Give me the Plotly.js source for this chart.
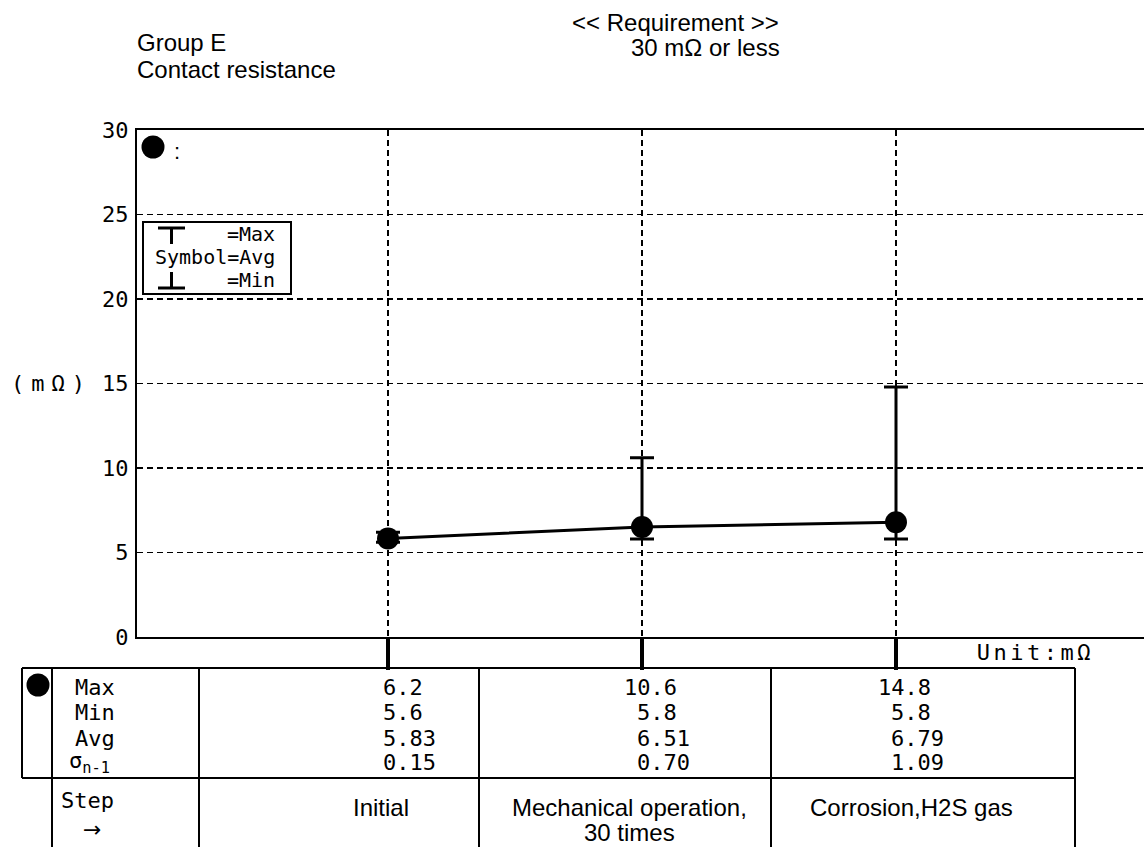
<!DOCTYPE html>
<html><head><meta charset="utf-8">
<script src="https://cdn.plot.ly/plotly-3.0.1.min.js"></script>
<style>html,body{margin:0;padding:0;background:#fff;} #chart{width:1144px;height:847px;}</style>
</head><body><div id="chart"></div>
<script>
// ---- data ----
const steps = ["Initial", "Mechanical operation,<br>30 times", "Corrosion,H2S gas"];
const maxVals = [6.2, 10.6, 14.8];
const minVals = [5.6, 5.8, 5.8];
const avgVals = [5.83, 6.51, 6.79];
const sigmaVals = [0.15, 0.70, 1.09];
const yTicks = [0, 5, 10, 15, 20, 25, 30];
const statLabels = ["Max", "Min", "Avg", "σ<sub>n-1</sub>"];

// ---- layout helpers (pixel geometry of the page) ----
const W = 1144, H = 847, L = 137, T = 130, B = 637, R = 1144;
const PW = R - L, PH = B - T;
const px = x => (x - L) / PW;
const py = y => (B - y) / PH;
const MONO = "DejaVu Sans Mono, Noto Sans CJK JP, monospace";
const SANS = "Liberation Sans, Arial, sans-serif";
const BLK = "#000";
const idx = steps.map((_, i) => i);
const catPx0 = 388, catStep = 254;
const xr0 = (L - catPx0) / catStep;
const xr1 = xr0 + PW / catStep;

const trace = {
  x: idx, y: avgVals, type: "scatter", mode: "lines+markers",
  line: {color: BLK, width: 3},
  marker: {size: 22, color: BLK},
  error_y: {
    type: "data", symmetric: false,
    array: maxVals.map((m, i) => m - avgVals[i]),
    arrayminus: avgVals.map((a, i) => a - minVals[i]),
    color: BLK, thickness: 3, width: 12
  },
  cliponaxis: false, hoverinfo: "skip"
};

const shapes = [];
const ann = [];
function line(x0, y0, x1, y1, w) {
  shapes.push({type: "line", xref: "paper", yref: "paper",
    x0: px(x0), y0: py(y0), x1: px(x1), y1: py(y1), line: {color: BLK, width: w || 2}});
}
function dot(cx, cy, r) {
  shapes.push({type: "circle", xref: "paper", yref: "paper",
    x0: px(cx - r), x1: px(cx + r), y0: py(cy + r), y1: py(cy - r),
    fillcolor: BLK, line: {color: BLK, width: 0}});
}
function text(t, x, y, opts) {
  ann.push(Object.assign({text: t, xref: "paper", yref: "paper", x: px(x), y: py(y),
    xanchor: "left", yanchor: "middle", showarrow: false,
    font: {family: MONO, size: 22, color: BLK}}, opts || {}));
}

// titles
text("Group E", 135, 42, {font: {family: SANS, size: 24, color: BLK}});
text("Contact resistance", 135, 69, {font: {family: SANS, size: 24, color: BLK}});
text("&lt;&lt; Requirement &gt;&gt;", 781, 22, {xanchor: "right", font: {family: SANS, size: 24, color: BLK}});
text("30 mΩ or less", 782, 47, {xanchor: "right", font: {family: SANS, size: 24, color: BLK}});
text("(mΩ)", 51, 383, {xanchor: "center"});
text("Unit:mΩ", 1035, 652, {xanchor: "center"});

// in-plot legend
dot(153, 147, 11.5);
text(":", 172, 151, {font: {family: SANS, size: 22, color: BLK}});
shapes.push({type: "rect", xref: "paper", yref: "paper", x0: px(143), x1: px(291), y0: py(294), y1: py(222),
  line: {color: BLK, width: 2}, fillcolor: "#fff"});
line(158, 228, 185, 228, 3); line(171.5, 228, 171.5, 244, 3);
line(171.5, 272, 171.5, 288, 3); line(158, 288, 185, 288, 3);
const LF = {family: MONO, size: 20, color: BLK};
text("=Max", 225, 234, {font: LF});
text("Symbol=Avg", 153, 257, {font: LF});
text("=Min", 225, 280, {font: LF});

// table frame
line(22, 668, 1075, 668); line(22, 778, 1075, 778);
line(22, 668, 22, 778);
[52, 199, 479, 771, 1075].forEach(x => line(x, 668, x, 850));
dot(38, 685, 11.5);
const rowY = [687, 713, 738, 762];
statLabels.forEach((s, r) => text(s, r === 3 ? 67 : 73, rowY[r]));
text("Step", 59, 801);
text("→", 92, 829, {xanchor: "center", font: {family: "DejaVu Sans", size: 22, color: BLK}});

// table values aligned on the decimal point under each step
const rows = [maxVals.map(v => v.toFixed(1)), minVals.map(v => v.toFixed(1)),
              avgVals.map(v => v.toFixed(2)), sigmaVals.map(v => v.toFixed(2))];
rows.forEach((vals, r) => vals.forEach((s, i) => {
  const intDigits = s.split(".")[0].length;
  ann.push({text: s, xref: "x", yref: "paper", x: i, y: py(rowY[r]),
    xanchor: "left", yanchor: "middle", xshift: -20 + (intDigits === 1 ? 12.5 : 0),
    showarrow: false, font: {family: MONO, size: 22, color: BLK}});
}));

// step labels
const stepShift = [-7, -13, 15];
steps.forEach((s, i) => s.split("<br>").forEach((ln, k) => {
  ann.push({text: ln, xref: "x", yref: "paper", x: i, y: py(807 + 25 * k),
    xanchor: "center", yanchor: "middle", xshift: stepShift[i], showarrow: false,
    font: {family: SANS, size: 24, color: BLK}});
}));

const layout = {
  width: W, height: H, margin: {l: L, r: W - R, t: T, b: H - B, pad: 0},
  paper_bgcolor: "#fff", plot_bgcolor: "#fff", showlegend: false,
  xaxis: {range: [xr0, xr1], tickvals: idx, showticklabels: false, ticks: "outside",
    ticklen: 31, tickwidth: 4, tickcolor: BLK, showgrid: true, gridcolor: BLK, gridwidth: 1.5,
    griddash: "6px,4px", showline: true, linecolor: BLK, linewidth: 2, mirror: true,
    zeroline: false, fixedrange: true, automargin: false},
  yaxis: {range: [0, 30], tickvals: yTicks, ticks: "outside", ticklen: 2, tickcolor: "rgba(0,0,0,0)",
    showgrid: true, gridcolor: BLK, gridwidth: 1.5, griddash: "6px,4px", showline: true,
    linecolor: BLK, linewidth: 2, zeroline: false, fixedrange: true, automargin: false,
    tickfont: {family: MONO, size: 22, color: BLK}},
  shapes: shapes, annotations: ann
};
Plotly.newPlot("chart", [trace], layout, {displayModeBar: false, staticPlot: true}).then(gd => {
  // widen the letter pitch of the two unit labels, as in the reference
  gd.querySelectorAll(".annotation-text").forEach(t => {
    const s = t.textContent;
    if (s === "(mΩ)") t.style.letterSpacing = "7px";
    if (s === "Unit:mΩ") t.style.letterSpacing = "3.5px";
  });
});
</script></body></html>
